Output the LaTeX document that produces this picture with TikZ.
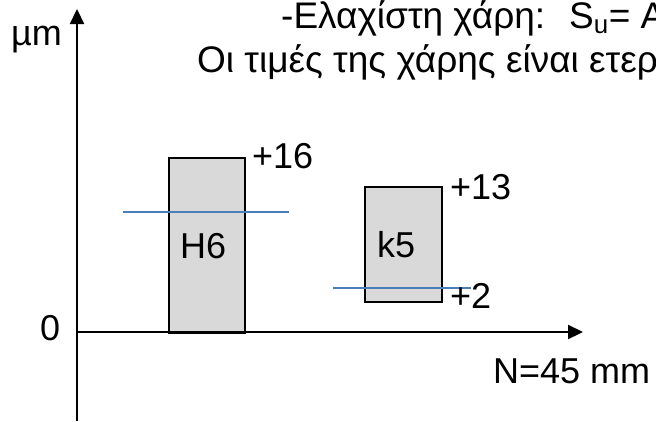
\documentclass[tikz,border=0pt]{standalone}
\usepackage{fontspec}
\setmainfont{Liberation Sans}
\usetikzlibrary{arrows.meta}
\definecolor{boxgray}{HTML}{D9D9D9}
\definecolor{lineblue}{HTML}{4A7EBB}
\begin{document}
\begin{tikzpicture}[x=1pt,y=-1pt,
  lbl/.style={inner sep=0pt, anchor=base west, font=\fontsize{36}{43}\selectfont},
  toplbl/.style={inner sep=0pt, anchor=base west, font=\fontsize{37}{44}\selectfont},
  axisline/.style={line width=2.2pt, -{Triangle[length=15pt,width=14pt]}},
  bar/.style={draw=black, fill=boxgray, line width=2pt, inner sep=0pt, anchor=north west},
  tolline/.style={draw=lineblue, line width=2pt}
]
\useasboundingbox (0,0) rectangle (656,421);
% axes
\coordinate (o) at (77,332);
\coordinate (ytop) at (77,9);
\coordinate (ybot) at (77,421);
\coordinate (xend) at (583,332);
% boxes
\node[bar, minimum width=76pt, minimum height=175pt] (h6box) at (168,157) {};
\node[bar, minimum width=77pt, minimum height=115pt] (k5box) at (364,186) {};
\draw[axisline] (ybot) -- (ytop);
\draw[axisline] (o) -- (xend);
% blue lines
\coordinate (b1a) at (123,212);
\coordinate (b1b) at (289,212);
\coordinate (b2a) at (333,288);
\coordinate (b2b) at (471,288);
\draw[tolline] (b1a) -- (b1b);
\draw[tolline] (b2a) -- (b2b);
% labels
\node[lbl] (h6) at (180,258) {H6};
\node[lbl] (k5) at (377,257) {k5};
\node[lbl] (p16) at (252,168) {+16};
\node[lbl] (p13) at (450,199) {+13};
\node[lbl] (p2) at (450,308) {+2};
\node[lbl] (zero) at (40,340) {0};
\node[lbl] (um) at (11,45) {µm};
\node[lbl] (nn) at (493,383) {N=45 mm};
\node[toplbl] (t1) at (281,28) {-Ελαχίστη χάρη:\hspace{0.65em}S\textsubscript{u}= A};
\node[toplbl] (t2) at (197,72) {Οι τιμές της χάρης είναι ετερ};
\end{tikzpicture}
\end{document}
